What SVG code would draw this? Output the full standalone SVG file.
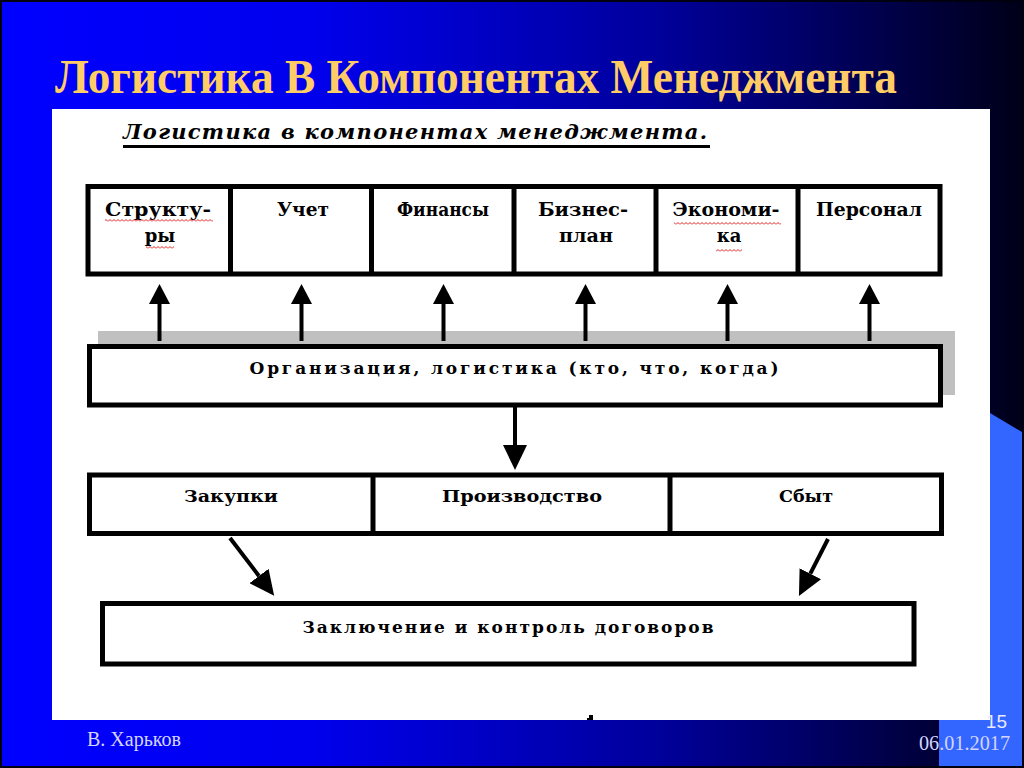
<svg xmlns="http://www.w3.org/2000/svg" width="1024" height="768" viewBox="0 0 1024 768">
<defs>
<linearGradient id="bg" x1="0" y1="0" x2="1" y2="0">
<stop offset="0" stop-color="#0000ff"/>
<stop offset="0.3" stop-color="#0000ee"/>
<stop offset="0.65" stop-color="#000099"/>
<stop offset="1" stop-color="#000018"/>
</linearGradient>
<pattern id="wavy" width="4" height="3" patternUnits="userSpaceOnUse">
<path d="M0,2.5 L2,0.5 L4,2.5" fill="none" stroke="#e02020" stroke-width="1"/>
</pattern>
<marker id="ah" viewBox="0 0 20 21" refX="0" refY="10.5" markerWidth="20" markerHeight="21" markerUnits="userSpaceOnUse" orient="auto">
<path d="M0,0 L20,10.5 L0,21 z" fill="#000"/>
</marker>
<marker id="ah2" viewBox="0 0 25 24" refX="0" refY="12" markerWidth="25" markerHeight="24" markerUnits="userSpaceOnUse" orient="auto">
<path d="M0,0 L25,12 L0,24 z" fill="#000"/>
</marker>
<style>
.box{fill:#fff;stroke:#000;stroke-width:5}
.cell{font-family:"DejaVu Serif","Liberation Serif",serif;font-weight:bold;font-size:18px;fill:#000;text-anchor:middle}
.lbl{font-family:"DejaVu Serif","Liberation Serif",serif;font-weight:bold;font-size:17px;fill:#000;text-anchor:middle}
.conn line{stroke:#000;stroke-width:4}
.foot{font-family:"Liberation Serif","Times New Roman",serif;font-size:20px;fill:#d4d4ff}
</style>
</defs>

<rect x="0" y="0" width="1024" height="768" fill="url(#bg)"/>
<polygon points="990,413 1022,432 1022,766 939,766 939,720 990,720" fill="#3366ff"/>
<rect x="1" y="1" width="1022" height="766" fill="none" stroke="#000010" stroke-width="2"/>

<text x="55" y="93" font-family="'Liberation Serif','Times New Roman',serif" font-weight="bold" font-size="48" fill="#ffcc66" textLength="842" lengthAdjust="spacingAndGlyphs">Логистика В Компонентах Менеджмента</text>

<rect x="52" y="109" width="938" height="611" fill="#fff"/>
<path d="M589,715 h4 v5 h-6 v-2 h2 z" fill="#000"/>

<text x="123" y="139" font-family="'DejaVu Serif','Liberation Serif',serif" font-weight="bold" font-style="italic" font-size="21" fill="#000" textLength="584" lengthAdjust="spacing">Логистика в компонентах менеджмента.</text>
<rect x="123" y="145" width="587" height="3" fill="#000"/>

<rect x="98" y="331" width="857" height="64" fill="#c0c0c0"/>

<g id="top-row">
<rect class="box" x="88" y="186.5" width="852" height="87.5"/>
<line x1="230.5" y1="186" x2="230.5" y2="274" stroke="#000" stroke-width="5"/>
<line x1="371.5" y1="186" x2="371.5" y2="274" stroke="#000" stroke-width="5"/>
<line x1="514" y1="186" x2="514" y2="274" stroke="#000" stroke-width="5"/>
<line x1="656" y1="186" x2="656" y2="274" stroke="#000" stroke-width="5"/>
<line x1="798" y1="186" x2="798" y2="274" stroke="#000" stroke-width="5"/>
</g>
<g id="node-struktury">
<text class="cell" x="158" y="216" textLength="106" lengthAdjust="spacingAndGlyphs">Структу-</text>
<text class="cell" x="160" y="242">ры</text>
<rect x="105" y="219" width="108" height="3" fill="url(#wavy)"/>
<rect x="146" y="246" width="28" height="3" fill="url(#wavy)"/>
</g>
<g id="node-uchet"><text class="cell" x="303" y="216" textLength="52" lengthAdjust="spacingAndGlyphs">Учет</text></g>
<g id="node-finansy"><text class="cell" x="443" y="216" textLength="92" lengthAdjust="spacingAndGlyphs">Финансы</text></g>
<g id="node-biznes-plan">
<text class="cell" x="583" y="216" textLength="90" lengthAdjust="spacingAndGlyphs">Бизнес-</text>
<text class="cell" x="586" y="242" textLength="54" lengthAdjust="spacingAndGlyphs">план</text>
</g>
<g id="node-ekonomika">
<text class="cell" x="726" y="216" textLength="107" lengthAdjust="spacingAndGlyphs">Экономи-</text>
<text class="cell" x="729" y="242">ка</text>
<rect x="674" y="222" width="107" height="3" fill="url(#wavy)"/>
<rect x="716" y="249" width="26" height="3" fill="url(#wavy)"/>
</g>
<g id="node-personal"><text class="cell" x="869" y="216" textLength="106" lengthAdjust="spacingAndGlyphs">Персонал</text></g>

<g id="node-organizaciya">
<rect class="box" x="89.5" y="346.5" width="851" height="58.5"/>
<text class="lbl" x="514" y="374" textLength="529" lengthAdjust="spacing">Организация, логистика (кто, что, когда)</text>
</g>

<g id="bottom-row">
<rect class="box" x="89.5" y="475" width="852" height="58.5"/>
<line x1="373" y1="475" x2="373" y2="534" stroke="#000" stroke-width="5"/>
<line x1="670" y1="475" x2="670" y2="534" stroke="#000" stroke-width="5"/>
</g>
<g id="node-zakupki"><text class="lbl" x="231" y="502" textLength="94" lengthAdjust="spacingAndGlyphs">Закупки</text></g>
<g id="node-proizvodstvo"><text class="lbl" x="522" y="502" textLength="160" lengthAdjust="spacingAndGlyphs">Производство</text></g>
<g id="node-sbyt"><text class="lbl" x="806" y="502" textLength="54" lengthAdjust="spacingAndGlyphs">Сбыт</text></g>

<g id="node-dogovory">
<rect class="box" x="102.5" y="603.5" width="811.5" height="60.5"/>
<text class="lbl" x="508" y="633" textLength="411" lengthAdjust="spacing">Заключение и контроль договоров</text>
</g>

<g id="connectors" class="conn">
<line x1="159.5" y1="341" x2="159.5" y2="304" marker-end="url(#ah)"/>
<line x1="301.5" y1="341" x2="301.5" y2="304" marker-end="url(#ah)"/>
<line x1="443.5" y1="341" x2="443.5" y2="304" marker-end="url(#ah)"/>
<line x1="585.5" y1="341" x2="585.5" y2="304" marker-end="url(#ah)"/>
<line x1="727.5" y1="341" x2="727.5" y2="304" marker-end="url(#ah)"/>
<line x1="869.5" y1="341" x2="869.5" y2="304" marker-end="url(#ah)"/>
<line x1="515" y1="407" x2="515" y2="445" marker-end="url(#ah2)"/>
<line x1="230" y1="538" x2="259" y2="576" marker-end="url(#ah2)"/>
<line x1="828" y1="539" x2="810.3" y2="573.7" marker-end="url(#ah2)"/>
</g>

<text class="foot" x="87" y="746" textLength="94" lengthAdjust="spacingAndGlyphs">В. Харьков</text>
<text class="foot" x="1010" y="750" text-anchor="end" textLength="91" lengthAdjust="spacingAndGlyphs">06.01.2017</text>
<text x="1007" y="728" text-anchor="end" font-family="'Liberation Sans',Arial,sans-serif" font-size="19" fill="#e8e8ff">15</text>
</svg>
